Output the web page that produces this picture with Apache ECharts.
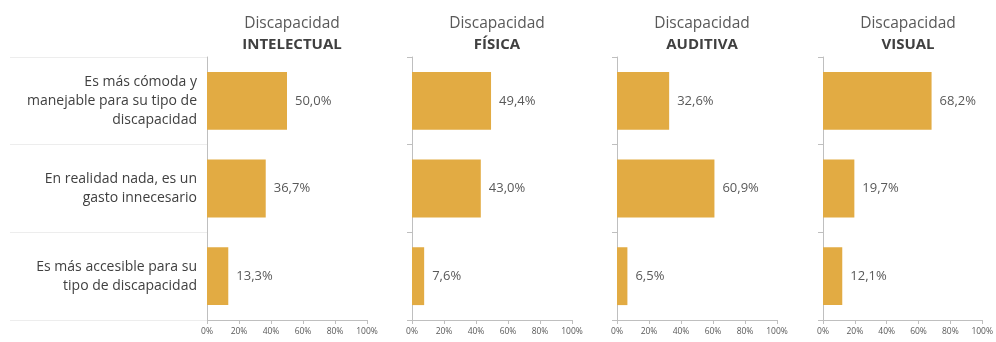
<!DOCTYPE html>
<html><head><meta charset="utf-8">
<script src="https://cdn.jsdelivr.net/npm/echarts@6/dist/echarts.min.js"></script>
<style>html,body{margin:0;padding:0;background:#fff}#c{width:996px;height:342px}</style>
</head><body><div id="c"></div>
<script>
const categories = [
  "Es más cómoda y\nmanejable para su tipo de\ndiscapacidad",
  "En realidad nada, es un\ngasto innecesario",
  "Es más accesible para su\ntipo de discapacidad"
];
const panelTitles = ["INTELECTUAL", "FÍSICA", "AUDITIVA", "VISUAL"];
const intelectual = [50.0, 36.7, 13.3];
const fisica = [49.4, 43.0, 7.6];
const auditiva = [32.6, 60.9, 6.5];
const visual = [68.2, 19.7, 12.1];
const xTicks = [0, 20, 40, 60, 80, 100];

const seriesData = [intelectual, fisica, auditiva, visual];
const lefts = [207, 412, 617, 823];
const W = 160, TOP = 57, H = 263;
const font = "'Open Sans', 'Noto Sans', sans-serif";
const txt = '#595959';

const yAxes = lefts.map((l, i) => ({
  gridIndex: i, type: 'category', data: categories, inverse: true,
  axisLine: { show: true, lineStyle: { color: '#bfbfbf' } },
  axisTick: { show: true, length: 5, lineStyle: { color: '#bfbfbf' } },
  axisLabel: { show: i === 0, fontSize: 14, color: '#404040', margin: 10, lineHeight: 19, align: 'right', fontFamily: font }
}));
yAxes.push({
  gridIndex: 0, type: 'category', data: categories, inverse: true, position: 'left',
  axisLine: { show: false },
  axisTick: { show: true, length: 197, lineStyle: { color: '#ededed' } },
  axisLabel: { show: false }, z: 0
});

const option = {
  animation: false,
  textStyle: { fontFamily: font },
  title: panelTitles.map((t, i) => ({
    text: 'Discapacidad', subtext: t,
    left: lefts[i] + W / 2, top: 11, textAlign: 'center', itemGap: 5,
    textStyle: { fontFamily: font, fontSize: 15.5, fontWeight: 'normal', color: txt },
    subtextStyle: { fontFamily: font, fontSize: 15, fontWeight: 'bold', color: '#404040' }
  })),
  grid: lefts.map(l => ({ left: l, top: TOP, width: W, height: H })),
  xAxis: lefts.map((l, i) => ({
    gridIndex: i, type: 'value', min: 0, max: 100, interval: 20,
    axisLine: { show: true, lineStyle: { color: '#bfbfbf' } },
    axisTick: { show: true, length: 4, lineStyle: { color: '#bfbfbf' } },
    splitLine: { show: false },
    axisLabel: { fontSize: 8.5, color: txt, margin: 7, fontFamily: font,
      formatter: v => xTicks.includes(v) ? v + '%' : '' }
  })),
  yAxis: yAxes,
  series: seriesData.map((d, i) => ({
    type: 'bar', xAxisIndex: i, yAxisIndex: i, data: d,
    barWidth: '66%',
    itemStyle: { color: '#E2AB43' },
    label: { show: true, position: 'right', distance: 8, fontSize: 13, color: txt, fontFamily: font,
      formatter: p => p.value.toFixed(1).replace('.', ',') + '%' }
  }))
};
echarts.init(document.getElementById('c')).setOption(option);
</script></body></html>
